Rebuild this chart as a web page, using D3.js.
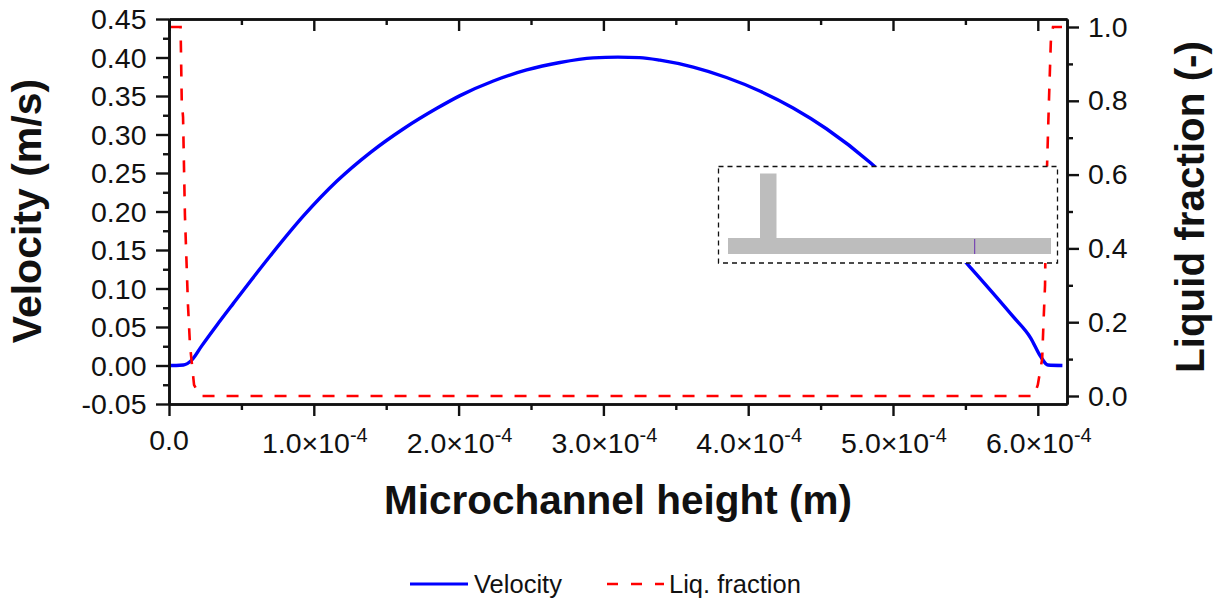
<!DOCTYPE html>
<html><head><meta charset="utf-8">
<script src="https://cdn.jsdelivr.net/npm/d3@7/dist/d3.min.js"></script>
<style>
html,body{margin:0;padding:0;background:#fff}
svg{display:block}
text{font-family:"Liberation Sans",Arial,sans-serif;fill:#111}
</style></head><body><svg id="c" width="1225" height="598"></svg>
<script>
const heightE4 = [0,0.05,0.099,0.157,0.226,0.329,0.442,0.7,0.93,1.16,1.39,1.62,1.85,2.01,2.24,2.47,2.70,2.93,3.10,3.25,3.39,3.62,3.85,4.08,4.31,4.54,4.84,5.2,5.52,5.83,5.95,6.02,6.07,6.17];
const velocity = [0,0,0.0006,0.007,0.0255,0.052,0.08,0.1425,0.1945,0.2395,0.2765,0.3075,0.334,0.3505,0.3695,0.3838,0.3935,0.3995,0.4005,0.3998,0.3965,0.3875,0.374,0.3565,0.3345,0.3075,0.264,0.198,0.1305,0.0634,0.036,0.0115,0.0006,0];
const fracX = [0.007,0.08,0.088,0.097,0.11,0.131,0.145,0.173,0.214,1.0,3.0,5.0,5.974,6.0,6.03,6.04,6.05,6.057,6.077,6.09,6.105,6.167];
const fracY = [1,1,0.8,0.756,0.49,0.247,0.138,0.03,0,0,0,0,0,0.03,0.1,0.205,0.3,0.53,0.8,0.96,1,1];
const xTicks = [0,1,2,3,4,5,6];
const xMinor = [0.5,1.5,2.5,3.5,4.5,5.5];
const yTicks = [-0.05,0,0.05,0.1,0.15,0.2,0.25,0.3,0.35,0.4,0.45];
const yMinor = [-0.025,0.025,0.075,0.125,0.175,0.225,0.275,0.325,0.375,0.425];
const rTicks = [0,0.2,0.4,0.6,0.8,1.0];
const rMinor = [0.1,0.3,0.5,0.7,0.9];
const seriesNames = ["Velocity","Liq. fraction"];
const titles = {x:"Microchannel height (m)",y:"Velocity (m/s)",r:"Liquid fraction (-)"};

const L=169,R=1067,T=19,B=404;
const x=d3.scaleLinear().domain([0,898/144.8]).range([L,R]);
const y=d3.scaleLinear().domain([-0.05,0.45]).range([B,T]);
const yr=d3.scaleLinear().domain([(396-404)/369,(396-19)/369]).range([B,T]);
const svg=d3.select("#c");

const line=(xs,ys,sy,c)=>d3.line().curve(c).x(i=>x(xs[i])).y(i=>sy(ys[i]))(d3.range(xs.length));
svg.append("path").attr("d",line(heightE4,velocity,y,d3.curveMonotoneX)).attr("fill","none").attr("stroke","#0000ff").attr("stroke-width",3.4);
svg.append("path").attr("d",line(fracX,fracY,yr,d3.curveLinear)).attr("fill","none").attr("stroke","#ff0000").attr("stroke-width",2.6).attr("stroke-dasharray","12 12");

// inset
const ins=svg.append("g");
ins.append("rect").attr("x",718.5).attr("y",166.5).attr("width",339).attr("height",96.5).attr("fill","#fff").attr("stroke","#111").attr("stroke-width",1.3).attr("stroke-dasharray","5 4");
ins.append("rect").attr("x",728).attr("y",238).attr("width",323).attr("height",16).attr("fill","#bdbdbd");
ins.append("rect").attr("x",760).attr("y",173.5).attr("width",16.5).attr("height",65).attr("fill","#bdbdbd");
ins.append("rect").attr("x",974.2).attr("y",239).attr("width",1).attr("height",15).attr("fill","#6a2fb0");

// axes
function style(g){g.select(".domain").attr("stroke","#111").attr("stroke-width",2.6);g.selectAll(".tick line").attr("stroke","#111").attr("stroke-width",2.4);g.selectAll("text").remove();}
const ax=(gen,t)=>{const g=svg.append("g").attr("transform",t).call(gen);style(g);return g;};
const tr=(a,b)=>`translate(${a},${b})`;
ax(d3.axisBottom(x).tickValues(xTicks).tickSize(12).tickSizeOuter(0),tr(0,B));
ax(d3.axisBottom(x).tickValues(xMinor).tickSize(6).tickSizeOuter(0),tr(0,B));
ax(d3.axisTop(x).tickValues(xTicks).tickSize(-12).tickSizeOuter(0),tr(0,T));
ax(d3.axisTop(x).tickValues(xMinor).tickSize(-6).tickSizeOuter(0),tr(0,T));
ax(d3.axisLeft(y).tickValues(yTicks).tickSize(13).tickSizeOuter(0),tr(L,0));
ax(d3.axisLeft(y).tickValues(yMinor).tickSize(6).tickSizeOuter(0),tr(L,0));
ax(d3.axisRight(yr).tickValues(rTicks).tickSize(12).tickSizeOuter(0),tr(R,0));
ax(d3.axisRight(yr).tickValues(rMinor).tickSize(6).tickSizeOuter(0),tr(R,0));

// tick labels
const fs=28.5;
yTicks.forEach(v=>svg.append("text").attr("x",146.5).attr("y",y(v)+10).attr("text-anchor","end").attr("font-size",fs).text(v.toFixed(2)));
rTicks.forEach(v=>svg.append("text").attr("x",1088).attr("y",yr(v)+9.5).attr("font-size",fs).text(v.toFixed(1)));
xTicks.forEach(v=>{
  const t=svg.append("text").attr("x",v===0?x(0):x(v)+1).attr("y",v===0?450:453).attr("text-anchor","middle").attr("font-size",fs);
  if(v===0){t.text("0.0");return;}
  t.append("tspan").text(v.toFixed(1)+"×10");
  t.append("tspan").attr("font-size",20).attr("dy",-11).text("-4");
});

// titles
svg.append("text").attr("x",618).attr("y",514).attr("text-anchor","middle").attr("font-size",40.5).attr("font-weight","bold").text(titles.x);
svg.append("text").attr("transform","translate(41,211) rotate(-90)").attr("text-anchor","middle").attr("font-size",41).attr("font-weight","bold").text(titles.y);
svg.append("text").attr("transform","translate(1204,207) rotate(-90)").attr("text-anchor","middle").attr("font-size",40.4).attr("font-weight","bold").text(titles.r);

// legend
svg.append("line").attr("x1",410).attr("x2",468).attr("y1",584).attr("y2",584).attr("stroke","#0000ff").attr("stroke-width",3.2);
svg.append("text").attr("x",474).attr("y",593).attr("font-size",25.5).text(seriesNames[0]);
svg.append("line").attr("x1",607).attr("x2",664).attr("y1",584).attr("y2",584).attr("stroke","#ff0000").attr("stroke-width",2.6).attr("stroke-dasharray","11 13");
svg.append("text").attr("x",669).attr("y",593).attr("font-size",25.5).text(seriesNames[1]);
</script></body></html>
